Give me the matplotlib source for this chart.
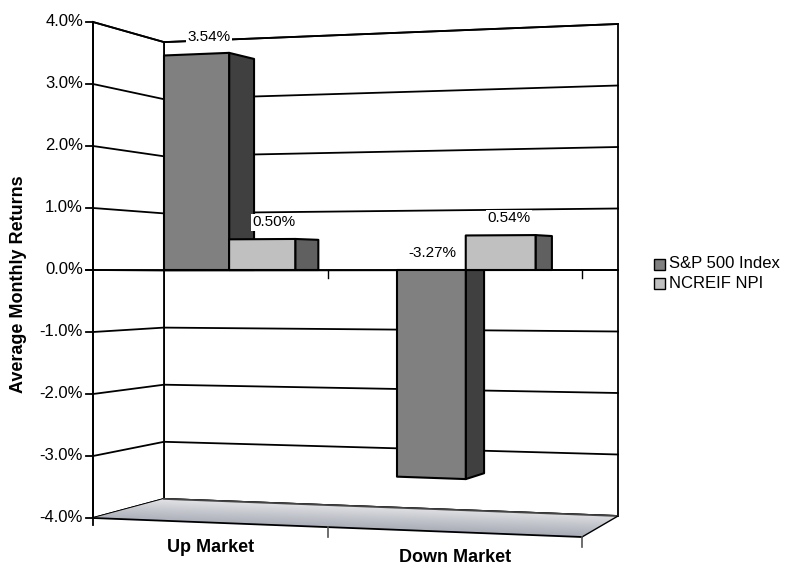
import numpy as np
import matplotlib.pyplot as plt
from matplotlib.patches import Polygon, Rectangle

plt.rcParams['font.family'] = ['Liberation Sans', 'DejaVu Sans']

# data
categories = ['Up Market', 'Down Market']
series_names = ['S&P 500 Index', 'NCREIF NPI']
sp500 = [3.54, -3.27]
ncreif = [0.50, 0.54]
yticks = [-4.0, -3.0, -2.0, -1.0, 0.0, 1.0, 2.0, 3.0, 4.0]

face_colors = ['#808080', '#c0c0c0']
side_colors = ['#404040', '#606060']

# --- fake 3d projection, everything in pixel space ---
Y0 = 270
BACK_L, BACK_R, FRONT_X = 164, 618, 93
FLOOR_FR = (582, 537)
VP = np.array([1120.0, 270.0])
DEPTH = 0.028
BAR_W = 0.285


def wall_left_y(v):
    return 270.5 - 57.1 * v


def wall_right_y(v):
    return 270 - 61.5 * v


def side_y(v):
    return 270 - 62 * v


def bar_x(t):
    return 164 + 226.6 * t + 6.4 * t ** 2


def bar_y(t, v):
    return Y0 - (60.6 + 2.6 * t) * v


def push(p):
    p = np.asarray(p, dtype=float)
    return p + DEPTH * (VP - p)


def front_edge_y(x):
    return 518 + (FLOOR_FR[1] - 518) * (x - FRONT_X) / (FLOOR_FR[0] - FRONT_X)


fig = plt.figure(figsize=(7.86, 5.65), dpi=100)
ax = fig.add_axes([0, 0, 1, 1])
ax.set_xlim(0, 786)
ax.set_ylim(565, 0)
ax.axis('off')

lw = 1.3
vmax, vmin = max(yticks), min(yticks)

# back wall
back = [(BACK_L, wall_left_y(vmax)), (BACK_R, wall_right_y(vmax)),
        (BACK_R, wall_right_y(vmin)), (BACK_L, wall_left_y(vmin))]
ax.add_patch(Polygon(back, closed=True, fc='white', ec='black', lw=lw, zorder=1))
for v in yticks:
    ax.plot([BACK_L, BACK_R], [wall_left_y(v), wall_right_y(v)], color='black', lw=lw, zorder=2)

# side wall
side = [(FRONT_X, side_y(vmax)), (BACK_L, wall_left_y(vmax)),
        (BACK_L, wall_left_y(vmin)), (FRONT_X, side_y(vmin))]
ax.add_patch(Polygon(side, closed=True, fc='white', ec='black', lw=lw, zorder=1))
for v in yticks:
    ax.plot([FRONT_X, BACK_L], [side_y(v), wall_left_y(v)], color='black', lw=lw, zorder=2)
    ax.plot([FRONT_X - 7, FRONT_X], [side_y(v), side_y(v)], color='black', lw=lw, zorder=2)
    ax.text(FRONT_X - 10, side_y(v), f'{v:.1f}%', ha='right', va='center', fontsize=12)
ax.plot([FRONT_X, FRONT_X], [side_y(vmax), side_y(vmin) + 7], color='black', lw=lw, zorder=3)

# floor with gradient
floor = [(FRONT_X, side_y(vmin)), (BACK_L, wall_left_y(vmin)),
         (BACK_R, wall_right_y(vmin)), FLOOR_FR]
floor_poly = Polygon(floor, closed=True, fc='none', ec='none', zorder=2)
ax.add_patch(floor_poly)
gx, gy = np.meshgrid(np.linspace(0, 1, 200), np.linspace(0, 1, 60))
g = np.clip(0.75 * gy + 0.35 * gx, 0, 1) ** 1.3
c0 = np.array([0.55, 0.57, 0.62])
c1 = np.array([1.0, 1.0, 1.0])
img = c0 + (c1 - c0) * g[..., None]
im = ax.imshow(img, extent=(FRONT_X, BACK_R, 499, FLOOR_FR[1]), origin='upper',
               aspect='auto', zorder=2)
im.set_clip_path(floor_poly)
ax.plot([BACK_L, BACK_R], [wall_left_y(vmin), wall_right_y(vmin)], color='#444444', lw=lw, zorder=3)
ax.plot([FRONT_X, FLOOR_FR[0]], [side_y(vmin), FLOOR_FR[1]], color='black', lw=lw, zorder=3)
ax.plot([FLOOR_FR[0], BACK_R], [FLOOR_FR[1], wall_right_y(vmin)], color='black', lw=1, zorder=3)

# category axis ticks (front edge of floor and zero line)
cat_ticks = [FRONT_X, 328, FLOOR_FR[0]]
for x in cat_ticks[1:]:
    ax.plot([x, x], [front_edge_y(x), front_edge_y(x) + 10], color='#555555', lw=1.2, zorder=3)
    ax.plot([x, x], [Y0, Y0 + 8], color='black', lw=1, zorder=3)
for i, name in enumerate(categories):
    cx = (cat_ticks[i] + cat_ticks[i + 1]) / 2
    ax.text(cx, front_edge_y(cx) + 25, name, ha='center', va='center',
            fontsize=13, fontweight='bold')

# zero line
ax.plot([FRONT_X - 7, BACK_R], [Y0, Y0], color='black', lw=lw, zorder=3)

# bars
all_series = [sp500, ncreif]
for i in range(len(categories)):
    for j, vals in enumerate(all_series):
        v = vals[i]
        t0 = i + j * BAR_W
        t1 = t0 + BAR_W
        front = [(bar_x(t0), bar_y(t0, 0)), (bar_x(t1), bar_y(t1, 0)),
                 (bar_x(t1), bar_y(t1, v)), (bar_x(t0), bar_y(t0, v))]
        sidef = [front[1], front[2], tuple(push(front[2])), tuple(push(front[1]))]
        ax.add_patch(Polygon(sidef, closed=True, fc=side_colors[j], ec='black',
                             lw=1.5, joinstyle='round', zorder=4))
        ax.add_patch(Polygon(front, closed=True, fc=face_colors[j], ec='black',
                             lw=1.5, joinstyle='round', zorder=4))
        lx = (front[0][0] + push(front[1])[0]) / 2
        if v < 0:
            lx -= 8
        tm = (t0 + t1) / 2
        ly = bar_y(tm, max(v, 0)) - 17
        ax.text(lx, ly, f'{v:.2f}%', ha='center', va='center', fontsize=11, zorder=6,
                bbox=dict(fc='white', ec='none', pad=1))

# y axis title
ax.text(19, 284, 'Average Monthly Returns', rotation=90, ha='center', va='center',
        fontsize=13, fontweight='bold')

# legend
for j, name in enumerate(series_names):
    ly = 264 + 19 * j
    ax.add_patch(Rectangle((654, ly - 5.5), 11, 11, fc=face_colors[j], ec='black', lw=1, zorder=5))
    ax.text(669, ly, name, ha='left', va='center', fontsize=12)

fig.savefig('out.png', dpi=100)
